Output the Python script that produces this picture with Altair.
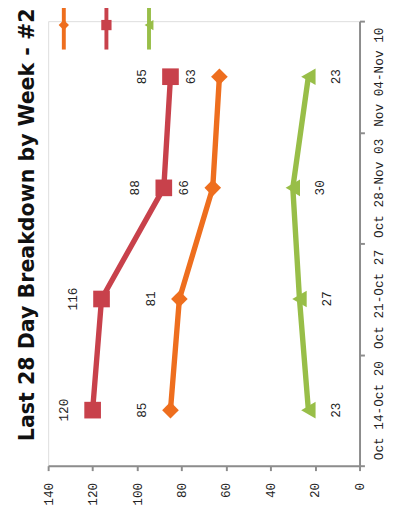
import altair as alt
import pandas as pd

# ---- data ----
weeks = ["Oct 14-Oct 20", "Oct 21-Oct 27", "Oct 28-Nov 03", "Nov 04-Nov 10"]
series_names = ["Series1", "Series2", "Series3"]
orange_vals = [85, 81, 66, 63]
red_vals = [120, 116, 88, 85]
green_vals = [23, 27, 30, 23]
value_ticks = [0, 20, 40, 60, 80, 100, 120, 140]
title_text = "Last 28 Day Breakdown by Week - #2"

colors = ["#EE6E1E", "#C8414B", "#98BE48"]
shapes = ["diamond", "square", "triangle-left"]

rows = []
for name, vals in zip(series_names, [orange_vals, red_vals, green_vals]):
    for i, (w, v) in enumerate(zip(weeks, vals)):
        rows.append({"series": name, "week": w, "idx": i, "value": v})
df = pd.DataFrame(rows)
leg_df = pd.DataFrame({"series": series_names, "k": list(range(len(series_names)))})

axis_gray = "#8C8C8C"
label_font = "Liberation Mono"
label_color = "#222222"

x_enc = alt.X(
    "value:Q",
    scale=alt.Scale(domain=[0, 140], reverse=True, nice=False),
    axis=alt.Axis(
        values=value_ticks, orient="bottom", labelAngle=270, grid=False, title=None,
        domainColor=axis_gray, domainWidth=2, tickColor=axis_gray, tickWidth=2, tickSize=5,
        labelFont=label_font, labelFontSize=13, labelColor=label_color, labelPadding=12,
    ),
)
y_enc = alt.Y(
    "week:N",
    sort=weeks[::-1],
    scale=alt.Scale(type="band", paddingInner=0, paddingOuter=0),
    axis=alt.Axis(
        orient="right", tickBand="extent", labelAngle=270, labelAlign="center",
        labelBaseline="top", grid=False, title=None,
        domainColor=axis_gray, domainWidth=2, tickColor=axis_gray, tickWidth=2, tickSize=5,
        labelFont=label_font, labelFontSize=13, labelColor=label_color, labelPadding=8,
    ),
)
color_enc = alt.Color("series:N", scale=alt.Scale(domain=series_names, range=colors), legend=None)
shape_enc = alt.Shape("series:N", scale=alt.Scale(domain=series_names, range=shapes), legend=None)

base = alt.Chart(df)

lines = base.mark_line(strokeWidth=5.5).encode(
    x=x_enc, y=y_enc, color=color_enc, order="idx:Q",
)

points = base.mark_point(filled=True, size=289, opacity=1).encode(
    x=x_enc, y=y_enc, color=color_enc, shape=shape_enc,
)

text_above = base.transform_filter(alt.datum.series != series_names[2]).mark_text(
    angle=270, xOffset=-29, font=label_font, fontSize=13, color=label_color,
    align="center", baseline="middle",
).encode(x=x_enc, y=y_enc, text="value:Q")

text_below = base.transform_filter(alt.datum.series == series_names[2]).mark_text(
    angle=270, xOffset=28, font=label_font, fontSize=13, color=label_color,
    align="center", baseline="middle",
).encode(x=x_enc, y=y_enc, text="value:Q")

main = alt.layer(lines, points, text_above, text_below)

# legend (its text lies above the cropped top edge of the reference)
leg_x = alt.X("k:O", scale=alt.Scale(type="point", range=[16, 103], padding=0), axis=None)
leg_base = alt.Chart(leg_df)
leg_lines = leg_base.mark_rule(strokeWidth=4).encode(
    x=leg_x, y=alt.value(-16), y2=alt.value(29), color=color_enc,
)
leg_marks = leg_base.mark_point(filled=True, size=110, opacity=1).encode(
    x=leg_x, y=alt.value(4), color=color_enc, shape=shape_enc,
)
legend = alt.layer(leg_lines, leg_marks)

chart = alt.layer(main, legend).resolve_scale(x="independent").properties(
    width=318,
    height=454,
    autosize=alt.AutoSizeParams(type="none"),
    padding={"left": 41, "top": 8, "right": 26, "bottom": 49},
    title=alt.TitleParams(
        text=title_text, orient="left", anchor="middle", font="DejaVu Sans",
        fontWeight="bold", fontSize=21, color="#111111", offset=4, dx=19,
    ),
).configure_view(stroke=None).configure(background="white")

chart.save("out.html", embed_options={"renderer": "svg", "actions": False})
